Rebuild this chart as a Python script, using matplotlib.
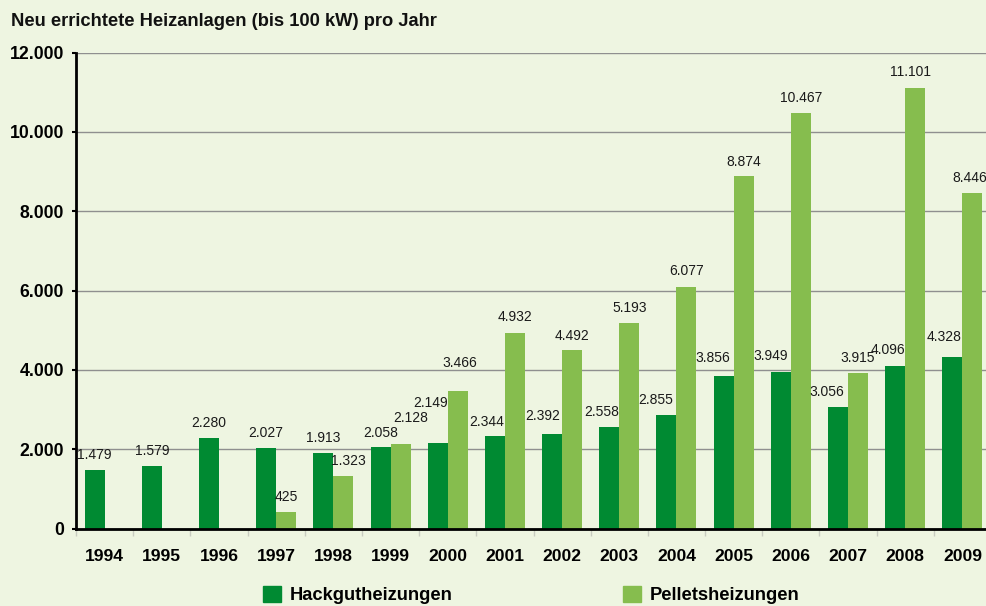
import numpy as np
import matplotlib
matplotlib.use('Agg')
import matplotlib.pyplot as plt
from matplotlib.patches import Patch

plt.rcParams['font.family'] = ['Liberation Sans', 'DejaVu Sans']

years = ['1994', '1995', '1996', '1997', '1998', '1999', '2000', '2001',
         '2002', '2003', '2004', '2005', '2006', '2007', '2008', '2009']
hackgut = [1479, 1579, 2280, 2027, 1913, 2058, 2149, 2344,
           2392, 2558, 2855, 3856, 3949, 3056, 4096, 4328]
pellets = [0, 0, 0, 425, 1323, 2128, 3466, 4932,
           4492, 5193, 6077, 8874, 10467, 3915, 11101, 8446]
y_ticks = [0, 2000, 4000, 6000, 8000, 10000, 12000]

# label nudges in pixels (dx, dy above bar top), to mimic the original placement
hack_nudge = [(0, 15), (0, 15), (0, 15), (0, 15), (0, 15), (0, 14), (-7, 40), (-8, 14),
              (-9, 18), (-8, 15), (-11, 15), (-11, 18), (-10, 16), (-11, 15), (-7, 16), (-8, 20)]
pell_nudge = [(0, 15), (0, 15), (0, 15), (0, 15), (5, 15), (10, 26), (2, 28), (0, 16),
              (0, 14), (0, 15), (0, 16), (0, 14), (0, 15), (0, 15), (-5, 16), (-3, 15)]

BG = '#eef5e1'
DARK = '#008a32'
LIGHT = '#86bd4e'

def fmt(v):
    return f'{v:,}'.replace(',', '.')

fig = plt.figure(figsize=(9.86, 6.06), dpi=100, facecolor=BG)
W, H = 986, 606
ax = fig.add_axes([76 / W, (H - 528.5) / H, (991 - 76) / W, (528.5 - 52.5) / H])
ax.set_facecolor(BG)

x = np.arange(len(years))
bw = 0.35
ax.bar(x - bw / 2, hackgut, bw, color=DARK, zorder=2)
ax.bar(x + bw / 2, pellets, bw, color=LIGHT, zorder=2)

for i in range(len(years)):
    dx, dy = hack_nudge[i]
    ax.annotate(fmt(hackgut[i]), (x[i] - bw / 2, hackgut[i]), xytext=(dx, dy),
                textcoords='offset pixels', ha='center', va='center',
                fontsize=10, color='#1a1a1a', zorder=3)
    if pellets[i] > 0:
        dx, dy = pell_nudge[i]
        ax.annotate(fmt(pellets[i]), (x[i] + bw / 2, pellets[i]), xytext=(dx, dy),
                    textcoords='offset pixels', ha='center', va='center',
                    fontsize=10, color='#1a1a1a', zorder=3)

ax.set_xlim(-0.5, len(years) - 0.5)
ax.set_ylim(0, 12000)
ax.set_yticks(y_ticks)
ax.set_yticklabels([fmt(v) for v in y_ticks], fontweight='bold', fontsize=12.7)
ax.set_xticks(x)
ax.set_xticklabels(years, fontweight='bold', fontsize=12.6)
ax.set_xticks(np.arange(len(years) + 1) - 0.5, minor=True)
ax.tick_params(axis='x', which='major', length=0, pad=15)
ax.tick_params(axis='x', which='minor', length=5, color='#c8ccc0', width=1)
ax.tick_params(axis='y', length=3, width=1.5, pad=5.5)

ax.grid(axis='y', color='#8f8f8f', linewidth=1)
ax.set_axisbelow(True)
for s in ['top', 'right']:
    ax.spines[s].set_visible(False)
ax.spines['left'].set_linewidth(2)
ax.spines['bottom'].set_linewidth(2)

fig.text(11 / W, 1 - 21.5 / H, 'Neu errichtete Heizanlagen (bis 100 kW) pro Jahr',
         fontsize=13.2, fontweight='bold', va='center', ha='left', color='#111111')

handles = [Patch(color=DARK), Patch(color=LIGHT)]
fig.legend(handles, ['Hackgutheizungen', 'Pelletsheizungen'], ncol=2,
           loc='center left', bbox_to_anchor=(263 / W, 1 - 595 / H), frameon=False,
           borderpad=0, borderaxespad=0,
           handlelength=1.0, handleheight=1.0, handletextpad=0.45, columnspacing=9.3,
           prop={'weight': 'bold', 'size': 13.2})

fig.savefig('out.png', dpi=100, facecolor=BG)
